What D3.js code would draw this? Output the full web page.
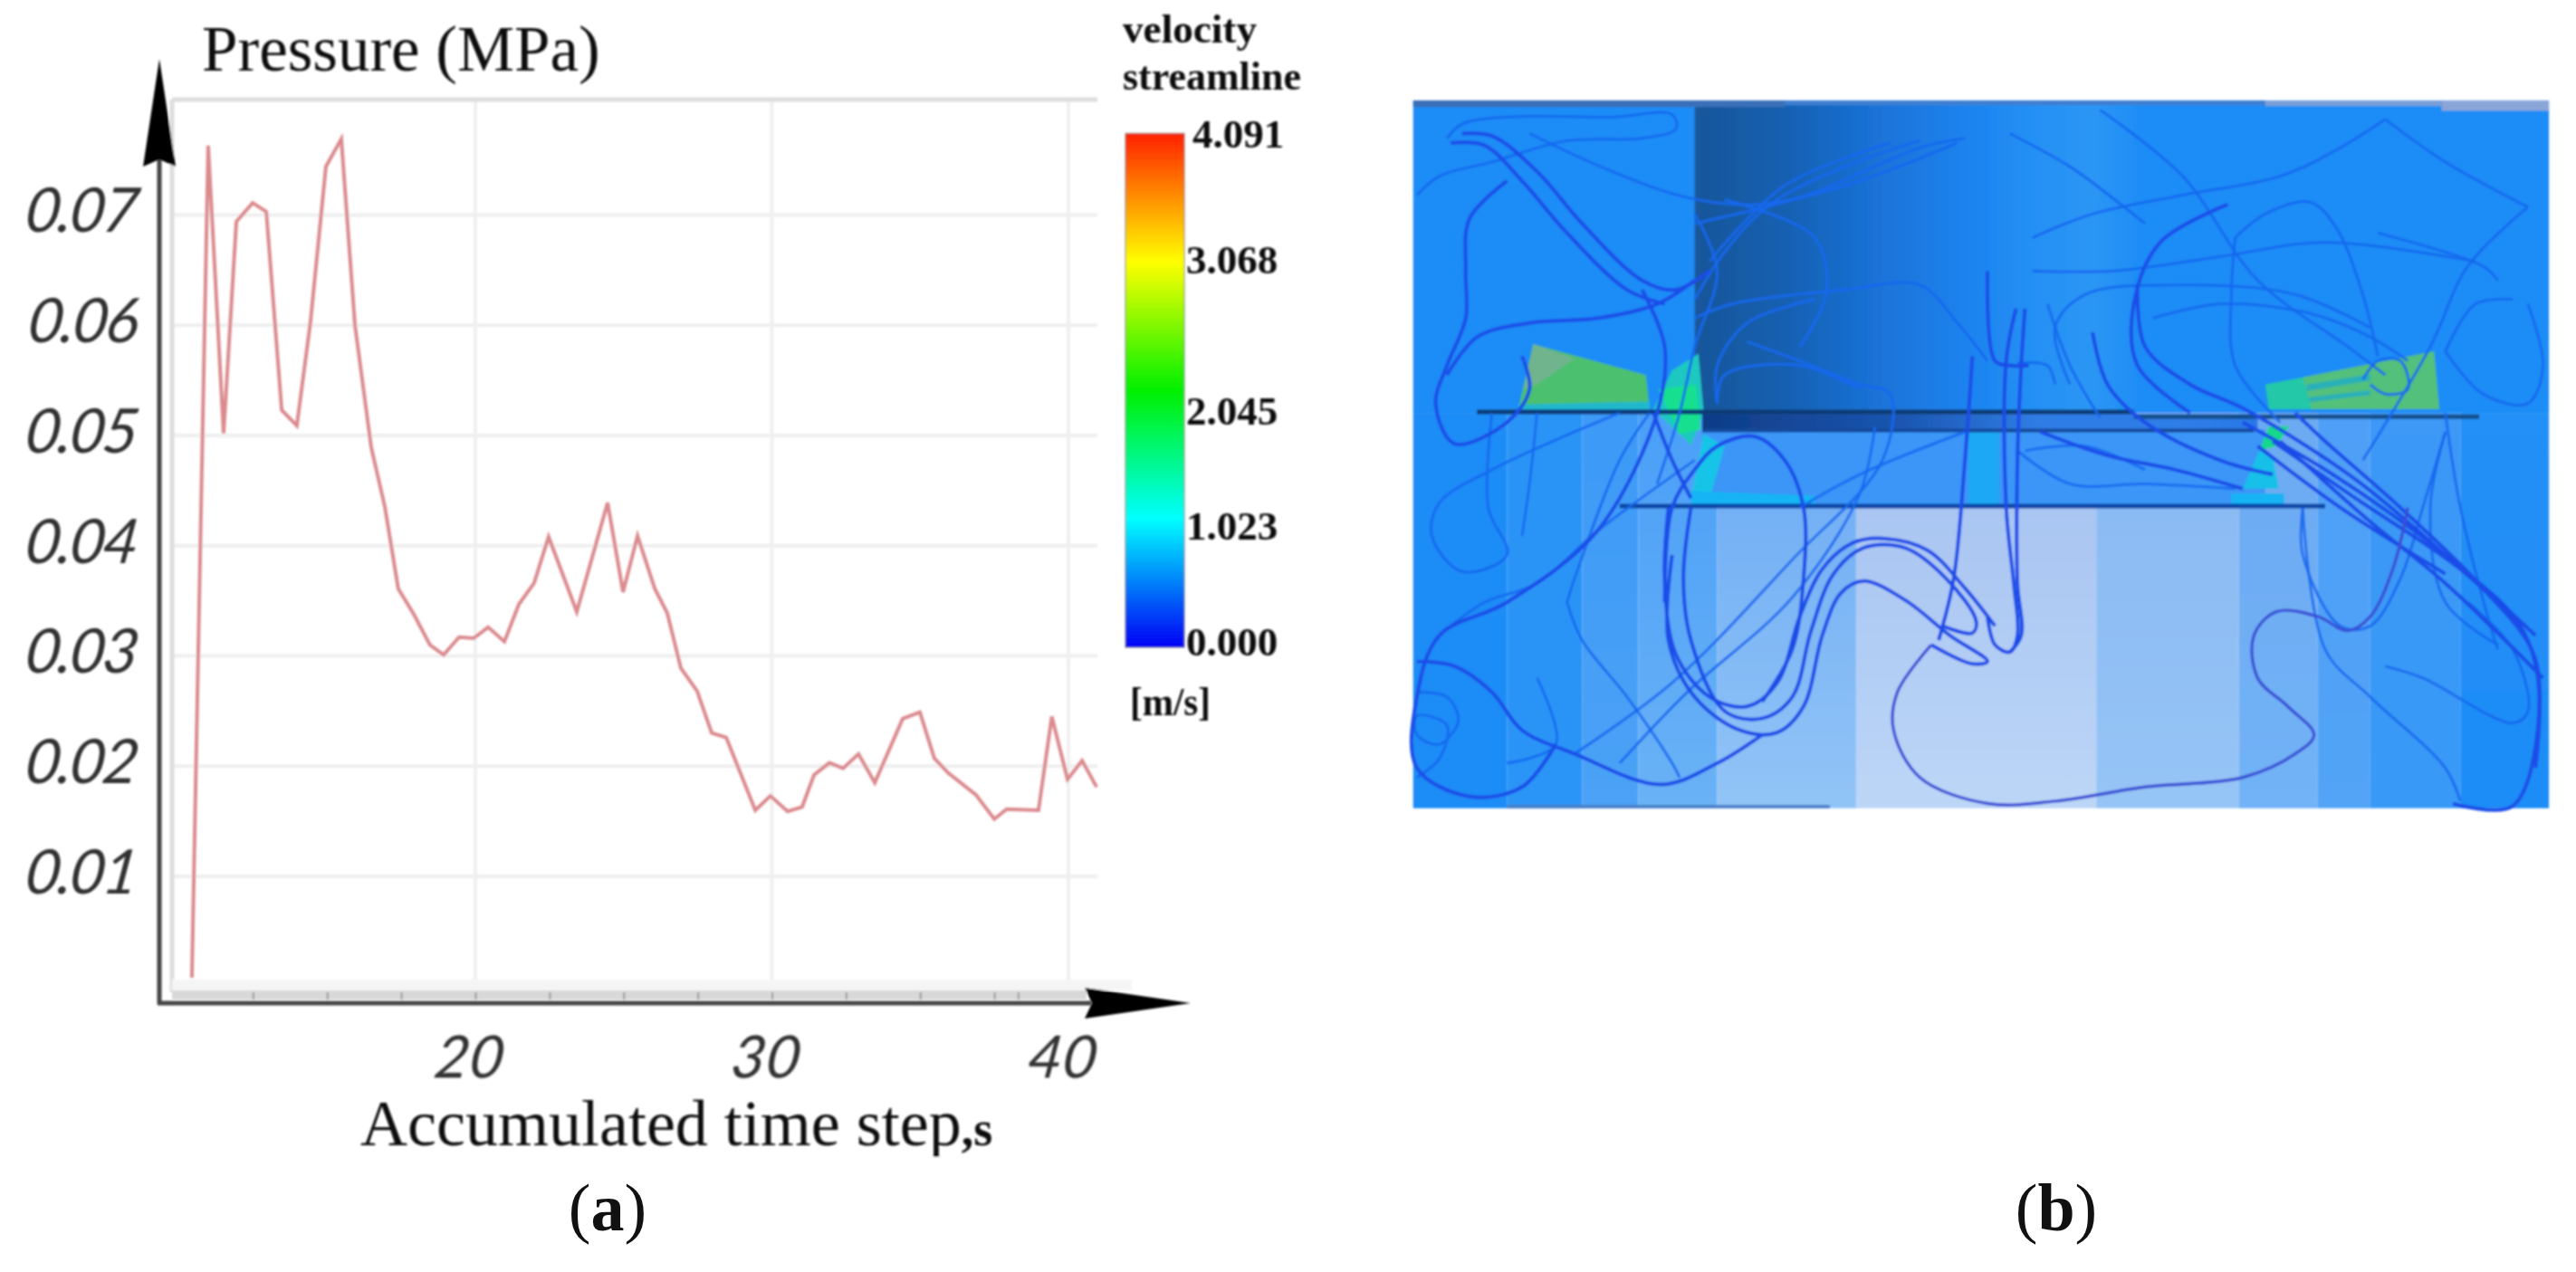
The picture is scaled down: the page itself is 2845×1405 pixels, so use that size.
<!DOCTYPE html>
<html>
<head>
<meta charset="utf-8">
<style>
    body { margin: 0; background: #fff; }
    text { fill: #111; }
</style>
<script src="https://d3js.org/d3.v7.min.js"></script>
</head>
<body>
<svg id="drawing_region"></svg>
<script>
// (a) pressure curve
const time_step = [10.44,10.99,11.51,11.94,12.49,12.95,13.47,13.98,14.44,14.96,15.48,15.94,16.49,16.95,17.40,17.92,18.47,18.93,19.45,19.94,20.43,20.98,21.47,21.98,22.47,23.42,24.46,24.98,25.47,26.05,26.47,26.93,27.48,27.97,28.46,29.44,29.95,30.53,31.02,31.42,31.94,32.40,32.92,33.47,34.41,34.99,35.48,35.94,36.88,37.50,37.92,38.99,39.44,39.97,40.46,40.95];
const pressure = [.0008,.0763,.0502,.0694,.0711,.0703,.0523,.0509,.0603,.0744,.0769,.0600,.0489,.0435,.0361,.0338,.0310,.0301,.0317,.0316,.0326,.0313,.0347,.0366,.0408,.0340,.0439,.0358,.0409,.0361,.0339,.0289,.0268,.0230,.0226,.0160,.0173,.0159,.0163,.0192,.0203,.0198,.0211,.0185,.0243,.0249,.0207,.0194,.0174,.0152,.0161,.0160,.0245,.0188,.0205,.0181];
const y_ticks = [.01,.02,.03,.04,.05,.06,.07];
const x_labels = [20,30,40];
const x_minor = [12.5,15,17.5,20,22.5,25,27.5,30,32.5,35,37.5,38.3];

// velocity legend
const legend_stops = [0,1.023,2.045,3.068,4.091];
const legend_colors = ['#0000f5','#00ffff','#00f000','#ffff00','#ff2000'];
const legend_labels = ['4.091','3.068','2.045','1.023','0.000'];
const legend_label_at = [3.98,2.98,1.77,.858,-.065];

// (b) flow picture, all in picture units (0..1568 on both axes)
const band_edges = [25,150,250,325,430,615,935,1125,1230,1300,1420,1538];
const band_top = ['#1e8cf6','#2c94f6','#3c9af7','#4a9ff8','#6aaaf4','#a3c0f0','#88b8f2','#6caaf2','#4f9ff8','#3c98f6','#2490f6'];
const band_bottom = ['#1c8cf6','#2a94f7','#4ca2f6','#6ab2f6','#92c4f6','#bcd6f7','#96c4f6','#72b2f6','#52a4f6','#389af6','#1e8cf6'];
const wedges = [
    {fill:'#4cc06e', pts:[[185,555],[335,620],[340,692],[165,692]]},
    {fill:'#6fb48e', pts:[[185,555],[240,585],[190,640],[172,650]]},
    {fill:'#20b8cc', pts:[[340,676],[165,682],[165,692],[340,692]]},
    {fill:'#1cc8c0', pts:[[405,575],[370,610],[345,692],[395,768],[412,700]]},
    {fill:'#12e090', pts:[[352,650],[402,640],[408,735],[380,745]]},
    {fill:'#18c4e8', pts:[[412,745],[395,880],[420,880],[440,770]]},
    {fill:'#14b4f4', pts:[[395,865],[560,875],[560,896],[395,896]]},
    {fill:'#52c07c', pts:[[1210,625],[1385,570],[1392,692],[1210,692]]},
    {fill:'#2ab0b8', pts:[[1215,640],[1300,618],[1300,632],[1215,654]]},
    {fill:'#2ab0b8', pts:[[1215,668],[1300,652],[1300,662],[1215,678]]},
    {fill:'#20c8a8', pts:[[1160,640],[1210,625],[1222,692],[1165,692]]},
    {fill:'#14d88c', pts:[[1165,728],[1192,728],[1175,770],[1152,780]]},
    {fill:'#14c0e8', pts:[[1130,860],[1152,780],[1170,790],[1178,860]]},
    {fill:'#14b4f4', pts:[[1115,870],[1185,870],[1185,896],[1115,896]]},
    {fill:'#1aa8f4', pts:[[765,740],[805,740],[805,895],[765,895]]}
];
const streams_main = [
    [[365,900],[360,1050],[375,1210],[420,1300],[470,1320],[510,1270],[540,1130],[570,1030],[610,975],[650,965],[710,990],[760,1070],[800,1150]],
    [[395,900],[385,1050],[395,1180],[440,1330],[490,1345],[530,1300],[555,1160],[585,1040],[625,985],[680,985],[735,1050],[775,1140],[770,1165],[730,1150]],
    [[370,1000],[365,1180],[400,1300],[460,1370],[510,1375],[545,1320],[570,1170],[595,1080],[625,1055],[680,1095],[740,1170],[790,1225],[770,1230],[715,1190]],
    [[360,1100],[370,900],[400,820],[430,770],[480,750],[520,800],[545,900],[545,1050],[530,1200],[490,1310]],
    [[828,480],[815,590],[815,900],[825,1060],[830,1170],[820,1205],[800,1190],[790,1130]],
    [[840,480],[835,600],[830,800],[830,1060],[835,1170],[820,1205]],
    [[770,580],[760,800],[745,1050],[725,1180]],
    [[790,400],[800,590],[820,600],[845,600]],
    [[90,110],[130,115],[190,190],[250,300],[330,420],[375,440],[420,400]],
    [[75,130],[120,135],[170,210],[230,320],[310,440],[360,470]],
    [[150,210],[100,290],[95,400],[95,500],[70,600],[55,680],[80,765],[150,720],[180,650],[170,580]],
    [[70,620],[110,540],[180,510],[270,500],[350,470],[400,420]],
    [[330,440],[360,560],[350,700],[270,950],[150,1100],[60,1170],[30,1300],[30,1450],[100,1510],[170,1490],[215,1400]],
    [[345,700],[370,800],[395,880]],
    [[30,1225],[80,1235],[130,1290],[170,1370],[240,1420],[355,1485],[430,1440],[490,1380]],
    [[990,430],[1000,560],[1060,640],[1130,690],[1280,840],[1400,1000],[1500,1150],[1525,1300],[1490,1530],[1410,1525]],
    [[1180,760],[1300,930],[1400,1060],[1530,1260]],
    [[1130,720],[1250,830],[1400,1000],[1520,1170]],
    [[1170,760],[1280,880],[1420,1030],[1500,1150]],
    [[1150,770],[1260,900],[1400,1040]],
    [[1200,700],[1240,760],[1340,900],[1450,1070],[1520,1220],[1520,1450]],
    [[860,740],[950,790],[1040,820],[1130,860]],
    [[930,530],[950,640],[1000,720],[1100,800],[1170,830]],
    [[1110,260],[1020,340],[985,470],[990,600],[1060,700]]
];
const streams_thin = [
    [[70,120],[90,90],[150,75],[290,75],[370,70],[375,100],[330,120],[230,125],[130,170],[60,200],[30,240]],
    [[180,110],[290,190],[390,245],[480,260],[600,220],[750,130]],
    [[400,280],[430,400],[400,560],[380,700],[350,850]],
    [[190,1260],[215,1400],[150,1440]],
    [[230,1100],[250,1180],[310,1300],[370,1440],[380,1470]],
    [[30,1290],[70,1300],[85,1350],[60,1400],[30,1380],[30,1340],[70,1360],[60,1430],[30,1470]],
    [[240,1420],[370,1270],[530,1010],[650,800],[660,660],[620,640],[540,590],[470,550]],
    [[300,1440],[390,1290],[530,1090],[620,870],[640,730]],
    [[130,700],[125,900],[150,1000],[90,1035],[50,960],[60,890],[130,820],[240,740],[300,700]],
    [[190,700],[180,850],[170,960]],
    [[230,1100],[240,1050],[300,800],[340,700]],
    [[60,1170],[120,1100],[190,1060],[270,950],[400,800]],
    [[400,300],[550,240],[700,140],[760,120]],
    [[700,125],[600,180],[500,260],[440,360],[400,460]],
    [[660,130],[520,220],[420,380]],
    [[400,500],[450,470],[600,440],[700,430],[750,510],[790,590]],
    [[430,680],[440,620],[540,600],[620,650]],
    [[430,680],[430,600],[470,510],[560,460]],
    [[440,250],[560,330],[575,450],[540,560]],
    [[540,900],[620,830],[760,740]],
    [[880,640],[870,600],[830,595]],
    [[820,110],[900,180],[960,250],[1000,300]],
    [[940,60],[1050,200],[1150,420],[1270,560],[1320,620]],
    [[1120,330],[1160,280],[1220,255],[1255,310],[1290,450],[1310,580]],
    [[1120,330],[1115,450],[1120,600],[1180,720]],
    [[1510,265],[1430,390],[1380,560],[1290,800]],
    [[1320,80],[1400,170],[1510,265]],
    [[1310,320],[1450,390],[1470,420]],
    [[900,640],[880,520],[920,450],[1050,430],[1200,450],[1300,520]],
    [[850,400],[960,400],[1100,370],[1240,340],[1440,380]],
    [[1320,1235],[1370,1260],[1490,1355],[1510,1330],[1490,1200],[1430,1100]],
    [[1210,900],[1210,1000],[1260,1150],[1300,1150],[1340,1050],[1370,900],[1400,740]],
    [[1210,900],[1240,1200],[1300,1300],[1400,1450],[1420,1520]],
    [[1400,700],[1420,900],[1460,1150],[1470,1200]],
    [[1400,740],[1380,900],[1400,1100],[1470,1190]],
    [[850,330],[930,280],[1050,240],[1180,200],[1260,140],[1320,80]],
    [[870,470],[900,600],[940,710]],
    [[830,780],[900,850],[1000,850],[1120,860]],
    [[840,780],[920,770],[1000,820]],
    [[1290,630],[1310,590],[1340,590],[1350,650],[1320,660],[1300,640]],
    [[1010,500],[1100,470],[1220,490],[1300,540],[1350,590]],
    [[1510,470],[1530,600],[1510,680],[1450,660],[1400,570]],
    [[1400,570],[1440,470],[1490,460]]
];
const stream_loop = [[715,1190],[670,1290],[665,1370],[700,1470],[790,1525],[880,1520],[1000,1490],[1130,1470],[1200,1420],[1225,1380],[1190,1320],[1150,1260],[1145,1170],[1175,1120],[1230,1130],[1270,1160],[1300,1130],[1330,1030],[1350,900]];

const svg = d3.select('#drawing_region').attr('width', 2845).attr('height', 1405);
const defs = svg.append('defs');
defs.append('filter').attr('id', 'soft').append('feGaussianBlur').attr('stdDeviation', 0.8);
defs.append('filter').attr('id', 'softer').append('feGaussianBlur').attr('stdDeviation', 1.2);

draw_pressure();
draw_legend();
draw_flow();

svg.selectAll('.sub')
    .data(['a','b'])
    .enter()
    .append('text')
    .attr('class', 'sub')
    .attr('x', d => d == 'a' ? 671 : 2271)
    .attr('y', 1359)
    .attr('text-anchor', 'middle')
    .style('font-family', '"Liberation Serif"')
    .style('font-size', '74px')
    .html(d => `(<tspan font-weight="bold">${d}</tspan>)`);

function draw_pressure() {
    const x = d3.scaleLinear().domain([10,40]).range([197.5,1180]);
    const y = d3.scaleLinear().domain([.01,.07]).range([968,237.5]);
    const g = svg.append('g').attr('filter', 'url(#soft)');

    // grid first, it sits under everything
    g.append('g').selectAll('line').data(y_ticks).enter().append('line')
        .attr('x1', 190).attr('x2', 1212)
        .attr('y1', d => y(d)).attr('y2', d => y(d))
        .attr('stroke', '#efefef').attr('stroke-width', 4);
    g.append('g').selectAll('line').data(x_labels).enter().append('line')
        .attr('x1', d => x(d)).attr('x2', d => x(d))
        .attr('y1', 110).attr('y2', 1090)
        .attr('stroke', '#f0f0f0').attr('stroke-width', 4);
    g.append('line').attr('x1', 190).attr('x2', 1212).attr('y1', 110).attr('y2', 110)
        .attr('stroke', '#dddddd').attr('stroke-width', 5);
    g.append('line').attr('x1', 190).attr('x2', 190).attr('y1', 110).attr('y2', 1096)
        .attr('stroke', '#dddddd').attr('stroke-width', 5);
    g.append('rect').attr('x', 190).attr('y', 1082).attr('width', 1060).attr('height', 12).attr('fill', '#f5f5f5');
    g.append('rect').attr('x', 190).attr('y', 1094).attr('width', 1010).attr('height', 10).attr('fill', '#d8d8d8');

    const line = d3.line().x(d => x(d[0])).y(d => y(d[1]));
    g.append('path')
        .attr('d', line(d3.zip(time_step, pressure)))
        .attr('fill', 'none')
        .attr('stroke', '#db8a8e')
        .attr('stroke-width', 4);

    // minor ticks on the bottom rail
    const minor = d3.axisBottom(x).tickValues(x_minor).tickSize(8).tickFormat('');
    g.append('g').attr('transform', 'translate(0,1096)').call(minor)
        .call(a => a.select('.domain').remove())
        .selectAll('line').attr('stroke', '#999').attr('stroke-width', 2);

    // axis lines and arrow heads
    g.append('line').attr('x1', 176).attr('x2', 176).attr('y1', 170).attr('y2', 1109)
        .attr('stroke', '#444').attr('stroke-width', 5);
    g.append('line').attr('x1', 174).attr('x2', 1205).attr('y1', 1108).attr('y2', 1108)
        .attr('stroke', '#444').attr('stroke-width', 5);
    g.append('path').attr('d', 'M176,65 L158,184 L176,176 L194,184 Z').attr('fill', '#000');
    g.append('path').attr('d', 'M1315,1108 L1198,1091 L1206,1108 L1198,1125 Z').attr('fill', '#000');

    // tick labels, the source font is thin and leans hard
    const yaxis = d3.axisLeft(y).tickValues(y_ticks).tickFormat(d3.format('.2f')).tickSize(0).tickPadding(26);
    const ya = g.append('g').attr('transform', 'translate(176,0)').call(yaxis);
    ya.select('.domain').remove();
    ya.selectAll('text')
        .style('font-family', 'Lato').style('font-style', 'italic').style('font-weight', 400)
        .style('font-size', '68px').style('letter-spacing', '-3px').style('fill', '#303030')
        .attr('dy', '.27em')
        .attr('transform', 'skewX(-8)');

    const xaxis = d3.axisBottom(x).tickValues(x_labels).tickSize(0).tickPadding(36);
    const xa = g.append('g').attr('transform', 'translate(0,1108)').call(xaxis);
    xa.select('.domain').remove();
    xa.selectAll('text')
        .style('font-family', 'Lato').style('font-style', 'italic').style('font-weight', 400)
        .style('font-size', '66px').style('fill', '#303030')
        .attr('dx', 2)
        .attr('transform', 'skewX(-8)');

    // titles
    g.append('text').attr('x', 223).attr('y', 78)
        .style('font-family', '"Liberation Serif"').style('font-size', '71px')
        .text('Pressure (MPa)');
    const xt = g.append('text').attr('x', 398).attr('y', 1265)
        .style('font-family', '"Liberation Serif"').style('font-size', '72px');
    xt.append('tspan').text('Accumulated time step');
    xt.append('tspan').style('font-weight', 'bold').style('font-size', '54px').text(',s');
    // the source crop cuts the descenders
    g.append('rect').attr('x', 390).attr('y', 1278).attr('width', 740).attr('height', 20).attr('fill', '#fff');
}

function draw_legend() {
    const v = d3.scaleLinear().domain([0,4.091]).range([715,147.5]);
    const grad = defs.append('linearGradient').attr('id', 'jet')
        .attr('x1', 0).attr('x2', 0).attr('y1', 1).attr('y2', 0);
    grad.selectAll('stop').data(legend_stops).enter().append('stop')
        .attr('offset', d => d / 4.091)
        .attr('stop-color', (d, i) => legend_colors[i]);

    const g = svg.append('g').attr('filter', 'url(#soft)');
    g.append('rect').attr('x', 1243).attr('width', 65)
        .attr('y', v(4.091)).attr('height', v(0) - v(4.091))
        .attr('fill', 'url(#jet)')
        .attr('stroke', '#777').attr('stroke-opacity', .45).attr('stroke-width', 2);

    const legend_text = (txt, x, y, len) => g.append('text')
        .attr('x', x).attr('y', y)
        .attr('textLength', len).attr('lengthAdjust', 'spacingAndGlyphs')
        .style('font-family', '"Liberation Serif"').style('font-weight', 'bold').style('font-size', '44px')
        .text(txt);

    legend_text('velocity', 1240, 47, 148);
    legend_text('streamline', 1240, 99, 197);
    legend_text('[m/s]', 1248, 790, 89);

    g.selectAll('.lab').data(legend_labels).enter().append('text')
        .attr('class', 'lab')
        .attr('x', (d, i) => i == 0 ? 1317 : 1310)
        .attr('y', (d, i) => v(legend_label_at[i]))
        .style('font-family', '"Liberation Serif"').style('font-weight', 'bold').style('font-size', '45px')
        .text(d => d);
}

function draw_flow() {
    const sx = d3.scaleLinear().domain([0,1568]).range([1540,2840]);
    const sy = d3.scaleLinear().domain([0,1568]).range([90,910]);
    const g = svg.append('g').attr('filter', 'url(#softer)');

    const box = (x0, y0, x1, y1, fill) => g.append('rect')
        .attr('x', sx(x0)).attr('y', sy(y0))
        .attr('width', sx(x1) - sx(x0)).attr('height', sy(y1) - sy(y0))
        .attr('fill', fill);

    const h_grad = (id, stops) => {
        const gr = defs.append('linearGradient').attr('id', id);
        gr.selectAll('stop').data(stops).enter().append('stop')
            .attr('offset', d => d[0]).attr('stop-color', d => d[1]);
        return `url(#${id})`;
    };

    // upper chamber and the dark cylinder
    box(25, 40, 1538, 700, '#1c8cf6');
    box(400, 50, 1000, 700, h_grad('cyl', [[0,'#1a5699'],[.2,'#1760b2'],[.4,'#1a72d6'],[.62,'#1d84f0'],[.75,'#2490f4'],[.88,'#2c96f4'],[1,'#1c8cf6']]));

    // vertical bands run from the upper plate down to the floor
    const band_idx = d3.range(band_top.length);
    band_idx.forEach(i => {
        const gr = defs.append('linearGradient').attr('id', `band${i}`).attr('x1', 0).attr('x2', 0).attr('y1', 0).attr('y2', 1);
        gr.append('stop').attr('offset', 0).attr('stop-color', band_top[i]);
        gr.append('stop').attr('offset', 1).attr('stop-color', band_bottom[i]);
    });
    g.selectAll('.band').data(band_idx).enter().append('rect')
        .attr('class', 'band')
        .attr('x', i => sx(band_edges[i]))
        .attr('width', i => sx(band_edges[i + 1]) - sx(band_edges[i]))
        .attr('y', sy(700)).attr('height', sy(1535) - sy(700))
        .attr('fill', i => `url(#band${i})`);

    // gap between the two plates is a flat blue
    box(410, 735, 1160, 897, '#3a96f8');

    // top and bottom rims
    box(25, 40, 520, 54, '#3a70b8');
    box(520, 40, 1160, 50, '#3f7fd0');
    box(1160, 40, 1395, 52, '#7a9fd8');
    box(1395, 40, 1538, 62, '#8aa6d8');
    box(150, 1528, 580, 1535, '#4a7fc8');

    // fast flow wedges next to the blades
    g.selectAll('.wedge').data(wedges).enter().append('polygon')
        .attr('class', 'wedge')
        .attr('points', d => d.pts.map(p => [sx(p[0]), sy(p[1])].join(',')).join(' '))
        .attr('fill', d => d.fill);

    // plates
    box(410, 702, 1150, 735, h_grad('plate', [[0,'#0f3c86'],[.35,'#1a55b0'],[.6,'#2f7ce4'],[.85,'#2f7ee8'],[1,'#2a78e8']]));
    const plate = (x0, x1, y0, color, w) => g.append('line')
        .attr('x1', sx(x0)).attr('x2', sx(x1)).attr('y1', sy(y0)).attr('y2', sy(y0))
        .attr('stroke', color).attr('stroke-width', w);
    plate(110, 985, 698, '#0c3a74', 5);
    plate(985, 1445, 708, '#15508f', 5);
    plate(410, 1145, 737, '#134a9c', 4);
    plate(300, 1240, 897, '#0d46a6', 5);

    // streamlines
    const stream = d3.line().x(d => sx(d[0])).y(d => sy(d[1])).curve(d3.curveCatmullRom.alpha(.5));
    g.selectAll('.thin').data(streams_thin).enter().append('path')
        .attr('class', 'thin')
        .attr('d', stream).attr('fill', 'none')
        .attr('stroke', '#1768f0').attr('stroke-width', 3).attr('stroke-opacity', .9);
    g.selectAll('.main').data(streams_main).enter().append('path')
        .attr('class', 'main')
        .attr('d', stream).attr('fill', 'none')
        .attr('stroke', '#1a4de8').attr('stroke-width', 4);
    g.append('path').attr('d', stream(stream_loop)).attr('fill', 'none')
        .attr('stroke', '#3a4fd6').attr('stroke-width', 3.4);
}
</script>
</body>
</html>
